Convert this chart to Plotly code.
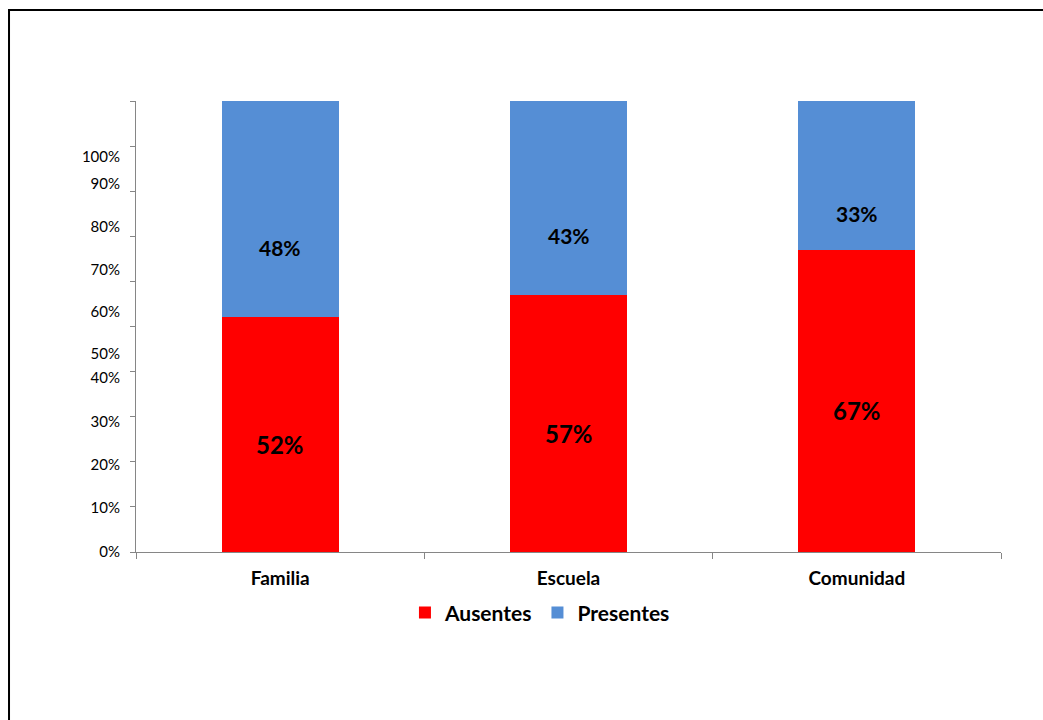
import plotly.graph_objects as go

categories = ["Familia", "Escuela", "Comunidad"]
ausentes = [52, 57, 67]
presentes = [48, 43, 33]
series_names = ["Ausentes", "Presentes"]
colors = ["#FF0000", "#558ED5"]

# tick marks every 10 %, labels placed where the original shows them
tick_marks = list(range(0, 101, 10))
label_positions = [0, 9.8, 19.4, 28.8, 38.6, 43.9, 53.2, 62.6, 72.1, 81.6, 87.6]
label_texts = ["0%", "10%", "20%", "30%", "40%", "50%", "60%", "70%", "80%", "90%", "100%"]

FONT = "Lato"

fig = go.Figure()
fig.add_trace(go.Bar(x=categories, y=ausentes, name=f"<b>{series_names[0]}</b>",
                     marker=dict(color=colors[0], line=dict(width=0)), width=0.405))
fig.add_trace(go.Bar(x=categories, y=presentes, name=f"<b>{series_names[1]}</b>",
                     marker=dict(color=colors[1], line=dict(width=0)), width=0.405))
# invisible helper trace so the label axis (y2) gets drawn
fig.add_trace(go.Scatter(x=categories, y=ausentes, yaxis="y2", mode="markers",
                         marker=dict(opacity=0), showlegend=False, hoverinfo="skip"))

annotations = []
for c, a, p in zip(categories, ausentes, presentes):
    annotations.append(dict(x=c, y=a / 2, text=f"<b>{a}%</b>", showarrow=False,
                            yshift=-10, font=dict(family=FONT, size=24, color="black")))
    annotations.append(dict(x=c, y=a + p / 2, text=f"<b>{p}%</b>", showarrow=False,
                            yshift=-38, font=dict(family=FONT, size=21, color="black")))

fig.update_layout(
    width=1043, height=720,
    barmode="stack",
    plot_bgcolor="white", paper_bgcolor="white",
    margin=dict(l=136, r=42, t=101, b=168),
    font=dict(family=FONT, color="black"),
    annotations=annotations,
    xaxis=dict(type="category", range=[-0.5, 2.5], showline=True, linecolor="#868686",
               linewidth=1, ticks="outside", tickson="boundaries", ticklen=6,
               tickcolor="#868686", showgrid=False, ticklabelstandoff=9,
               tickfont=dict(family=FONT, size=19, color="black"),
               tickprefix="<b>", ticksuffix="</b>"),
    yaxis=dict(range=[0, 100], showline=True, linecolor="#868686", linewidth=1,
               ticks="outside", ticklen=5, tickcolor="#868686", tickvals=tick_marks,
               showticklabels=False, showgrid=False, zeroline=False),
    yaxis2=dict(range=[0, 100], overlaying="y", side="left", showline=False,
                tickvals=label_positions, ticktext=label_texts, ticks="outside",
                ticklen=12, tickcolor="rgba(0,0,0,0)", showgrid=False, zeroline=False,
                tickfont=dict(family=FONT, size=15, color="black")),
    legend=dict(orientation="h", x=0.467, xanchor="center", y=-0.135, yanchor="middle",
                font=dict(family=FONT, size=21, color="black"),
                itemsizing="constant", traceorder="normal"),
    shapes=[dict(type="rect", xref="paper", yref="paper", x0=-0.1468, y0=-0.6,
                 x1=1.2, y1=1.2018, line=dict(color="black", width=2))],
)
fig.write_html("out.html", config={"displayModeBar": False},
               post_script="document.body.style.margin='0px';")
